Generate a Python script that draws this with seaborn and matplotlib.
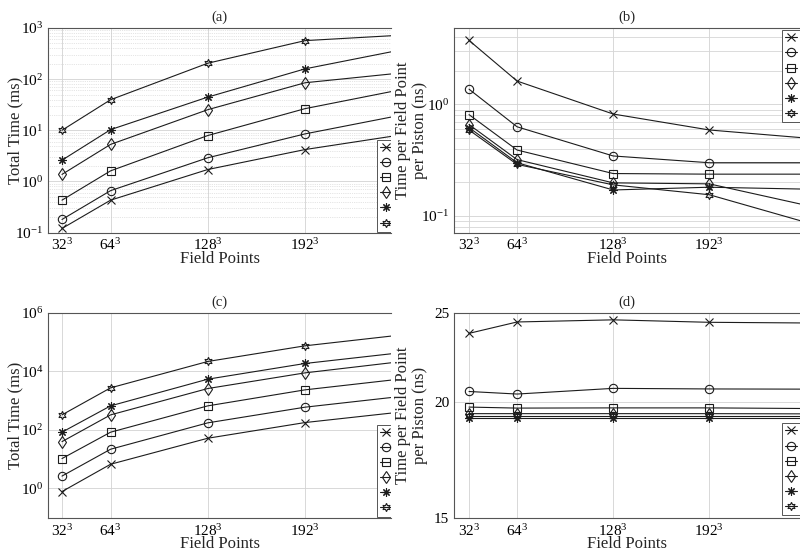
import numpy as np
import matplotlib.pyplot as plt
import matplotlib.ticker as mticker
import seaborn as sns

sns.set_theme(style="white")
plt.rcParams['font.family'] = ['Liberation Serif', 'DejaVu Serif']
plt.rcParams['mathtext.fontset'] = 'custom'
plt.rcParams['mathtext.rm'] = 'Liberation Serif'
plt.rcParams['mathtext.it'] = 'Liberation Serif:italic'

# grid edge length (field points = N^3)
field_n = [32, 64, 128, 192, 256]
tick_labels = ['$32^3$', '$64^3$', '$128^3$', '$192^3$', '$256^3$']
series_names = ['S1', 'S2', 'S3', 'S4', 'S5', 'S6']

# (a) total time, ms
a_x = [0.12, 0.43, 1.71, 4.2, 8.2]
a_o = [0.18, 0.66, 2.9, 8.5, 20]
a_s = [0.43, 1.61, 7.9, 26.5, 63]
a_d = [1.37, 5.3, 25.3, 85, 133]
a_star = [2.6, 10.3, 44.6, 159, 378]
a_h = [10, 39.6, 205, 567, 727]

# (b) time per field point per piston, ns
b_x = [3.75, 1.62, 0.82, 0.59, 0.50]
b_o = [1.37, 0.63, 0.345, 0.30, 0.30]
b_s = [0.81, 0.39, 0.24, 0.237, 0.237]
b_d = [0.66, 0.32, 0.198, 0.194, 0.125]
b_star = [0.62, 0.30, 0.171, 0.181, 0.174]
b_h = [0.59, 0.29, 0.19, 0.155, 0.088]

# (c) total time, ms
c_x = [0.77, 6.6, 51, 175, 405]
c_o = [2.6, 21.5, 171, 586, 1380]
c_s = [10.3, 82, 650, 2290, 5440]
c_d = [39, 320, 2540, 8700, 21300]
c_star = [82, 650, 5300, 18200, 43000]
c_h = [320, 2680, 21300, 73000, 173000]

# (d) time per field point per piston, ns
d_x = [23.74, 24.42, 24.55, 24.40, 24.36]
d_o = [20.55, 20.42, 20.71, 20.68, 20.67]
d_s = [19.77, 19.72, 19.73, 19.73, 19.70]
d_d = [19.45, 19.45, 19.45, 19.45, 19.44]
d_star = [19.26, 19.26, 19.26, 19.26, 19.26]
d_h = [19.34, 19.34, 19.34, 19.34, 19.34]

markers = ['x', 'o', 's', 'd', (8, 2, 0), (6, 1, 0)]
ink = '#1c1c1c'
frame = '#555555'

fig = plt.figure(figsize=(8, 5.55), dpi=100)
ax_a = fig.add_axes([0.06, 0.581, 0.42875, 0.3685])
ax_b = fig.add_axes([0.5675, 0.581, 0.4325, 0.3685])
ax_c = fig.add_axes([0.06, 0.0661, 0.42875, 0.3708])
ax_d = fig.add_axes([0.5675, 0.0661, 0.4325, 0.3708])


def draw_panel(ax, series, title, ylabel, xlim, ylab_x, leg_loc, leg_anchor):
    for vals, m in zip(series, markers):
        sns.lineplot(x=field_n, y=vals, marker=m, color=ink, lw=0.8, ms=6,
                     mfc='none', mec=ink, mew=0.8, errorbar=None, ax=ax)
    ax.set_xticks(field_n, tick_labels)
    ax.set_xlim(*xlim)
    ax.set_title(title, fontsize=10.5, pad=5)
    ax.set_xlabel('Field Points', fontsize=12, labelpad=-2)
    ax.set_ylabel(ylabel, fontsize=12, linespacing=1.05)
    ax.yaxis.set_label_coords(ylab_x, 0.5)
    ax.tick_params(axis='both', which='both', direction='in', colors=frame,
                   labelcolor='black', labelsize=11, length=3, width=0.6)
    ax.tick_params(axis='y', which='minor', length=1.5)
    for side in ['left', 'bottom', 'top']:
        ax.spines[side].set_color(frame)
        ax.spines[side].set_linewidth(0.8)
    ax.spines['right'].set_visible(False)
    ax.grid(True, which='major', color='#d2d2d2', lw=0.6)
    ax.set_axisbelow(True)

    leg = ax.legend(ax.get_lines(), series_names, loc=leg_loc,
                    bbox_to_anchor=leg_anchor, borderaxespad=0, fontsize=8,
                    handlelength=1.1, borderpad=0.3, labelspacing=0.48,
                    handletextpad=0.4, frameon=True, fancybox=False,
                    edgecolor=frame, framealpha=1, numpoints=1)
    leg.get_frame().set_linewidth(0.7)
    # the source figure is cropped on the right: clip legend to the axes
    for art in leg.findobj():
        art.set_clip_box(ax.bbox)
        art.set_clip_on(True)


draw_panel(ax_a, [a_x, a_o, a_s, a_d, a_star, a_h], '(a)', 'Total Time (ms)',
           (22.8, 248.6), -0.073, 'lower left', (0.959, 0.004))
ax_a.set_yscale('log')
ax_a.set_ylim(0.1, 1000)
ax_a.yaxis.set_major_locator(mticker.LogLocator(base=10, numticks=10))
ax_a.yaxis.set_minor_locator(mticker.LogLocator(base=10, subs=np.arange(2, 10), numticks=20))
ax_a.yaxis.set_minor_formatter(mticker.NullFormatter())
ax_a.grid(True, which='minor', axis='y', color='#cccccc', lw=0.5, ls=':')

draw_panel(ax_b, [b_x, b_o, b_s, b_d, b_star, b_h], '(b)',
           'Time per Field Point\nper Piston (ns)',
           (22.0, 252.4), -0.075, 'upper left', (0.947, 0.99))
ax_b.set_yscale('log')
ax_b.set_ylim(0.071, 4.84)
ax_b.yaxis.set_major_locator(mticker.FixedLocator([0.1, 1]))
ax_b.yaxis.set_major_formatter(mticker.LogFormatterSciNotation())
ax_b.yaxis.set_minor_locator(mticker.LogLocator(base=10, subs=np.arange(2, 10), numticks=20))
ax_b.yaxis.set_minor_formatter(mticker.NullFormatter())
ax_b.grid(True, which='minor', axis='y', color='#d6d6d6', lw=0.6)

draw_panel(ax_c, [c_x, c_o, c_s, c_d, c_star, c_h], '(c)', 'Total Time (ms)',
           (22.8, 248.6), -0.073, 'lower left', (0.959, 0.008))
ax_c.set_yscale('log')
ax_c.set_ylim(0.094, 1e6)
ax_c.yaxis.set_major_locator(mticker.FixedLocator([1, 1e2, 1e4, 1e6]))
ax_c.yaxis.set_major_formatter(mticker.LogFormatterSciNotation())
ax_c.yaxis.set_minor_locator(mticker.NullLocator())

draw_panel(ax_d, [d_x, d_o, d_s, d_d, d_star, d_h], '(d)',
           'Time per Field Point\nper Piston (ns)',
           (22.0, 252.4), -0.075, 'lower left', (0.947, 0.015))
ax_d.set_yscale('log')
ax_d.set_ylim(15, 25)
ax_d.yaxis.set_major_locator(mticker.FixedLocator([15, 20, 25]))
ax_d.yaxis.set_major_formatter(mticker.FormatStrFormatter('%d'))
ax_d.yaxis.set_minor_locator(mticker.NullLocator())
ax_d.yaxis.set_minor_formatter(mticker.NullFormatter())

fig.savefig('out.png', dpi=100)
